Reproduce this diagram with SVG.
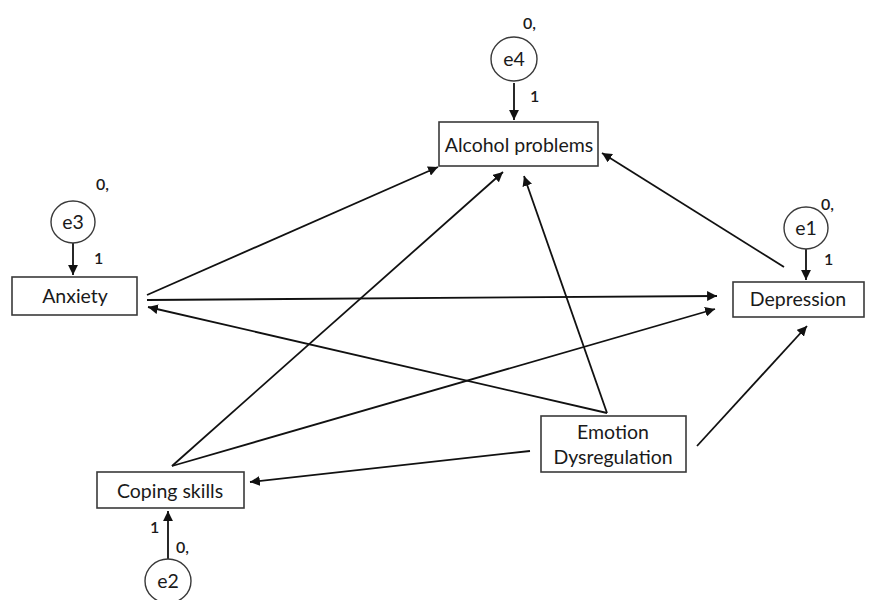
<svg xmlns="http://www.w3.org/2000/svg" width="870" height="600" viewBox="0 0 870 600">
<style>
.box{fill:#fff;stroke:#3a3a3a;stroke-width:1.6}
.err{fill:#fff;stroke:#3a3a3a;stroke-width:1.4}
.lbl{font-family:Lato,"Open Sans","Liberation Sans",sans-serif;font-size:19.5px;fill:#1a1a1a;text-anchor:middle}
.num{font-family:Lato,"Open Sans","Liberation Sans",sans-serif;font-size:16px;fill:#1a1a1a;font-weight:600}
.ln{stroke:#111;stroke-width:1.8;fill:none;marker-end:url(#ah)}
</style>
<defs>
<marker id="ah" viewBox="0 0 10 10" refX="10" refY="5" markerWidth="5.5" markerHeight="5.5" orient="auto" markerUnits="strokeWidth">
<path d="M0,0 L10,5 L0,10 z" fill="#111"/>
</marker>
</defs>
<rect width="870" height="600" fill="#fff"/>
<g id="connectors">
<line class="ln" x1="147" y1="295" x2="438" y2="167"/>
<line class="ln" x1="147" y1="300" x2="717" y2="296"/>
<line class="ln" x1="607" y1="413" x2="148" y2="307"/>
<line class="ln" x1="172" y1="466" x2="503" y2="172"/>
<line class="ln" x1="172" y1="466" x2="715" y2="309"/>
<line class="ln" x1="607" y1="413" x2="524" y2="176"/>
<line class="ln" x1="784" y1="267" x2="602" y2="153"/>
<line class="ln" x1="530" y1="451" x2="250" y2="482"/>
<line class="ln" x1="697" y1="446" x2="807" y2="326"/>
<line class="ln" x1="514" y1="83" x2="514" y2="120"/>
<line class="ln" x1="73" y1="243" x2="73" y2="275"/>
<line class="ln" x1="806" y1="248" x2="806" y2="280"/>
<line class="ln" x1="168" y1="559" x2="168" y2="511"/>
</g>
<g id="alcohol">
<rect class="box" x="439" y="122" width="159" height="44"/>
<text class="lbl" x="519" y="152">Alcohol problems</text>
</g>
<g id="anxiety">
<rect class="box" x="12" y="277" width="125" height="38"/>
<text class="lbl" x="75" y="303">Anxiety</text>
</g>
<g id="depression">
<rect class="box" x="733" y="282" width="131" height="35"/>
<text class="lbl" x="798" y="306">Depression</text>
</g>
<g id="coping">
<rect class="box" x="97" y="472" width="147" height="36"/>
<text class="lbl" x="170" y="498">Coping skills</text>
</g>
<g id="emotion">
<rect class="box" x="541" y="416" width="145" height="56"/>
<text class="lbl" x="613" y="439">Emotion</text>
<text class="lbl" x="613" y="464">Dysregulation</text>
</g>
<g id="e4">
<ellipse class="err" cx="514" cy="59" rx="23" ry="22"/>
<text class="lbl" x="514" y="66">e4</text>
<text class="num" x="523" y="29">0,</text>
<text class="num" x="530" y="102">1</text>
</g>
<g id="e3">
<ellipse class="err" cx="73" cy="222" rx="22" ry="21"/>
<text class="lbl" x="73" y="229">e3</text>
<text class="num" x="96" y="190">0,</text>
<text class="num" x="94" y="264">1</text>
</g>
<g id="e1">
<ellipse class="err" cx="806" cy="228" rx="22" ry="21"/>
<text class="lbl" x="806" y="235">e1</text>
<text class="num" x="821" y="210">0,</text>
<text class="num" x="824" y="265">1</text>
</g>
<g id="e2">
<ellipse class="err" cx="168" cy="581" rx="23" ry="22"/>
<text class="lbl" x="168" y="588">e2</text>
<text class="num" x="176" y="553">0,</text>
<text class="num" x="150" y="533">1</text>
</g>
</svg>
